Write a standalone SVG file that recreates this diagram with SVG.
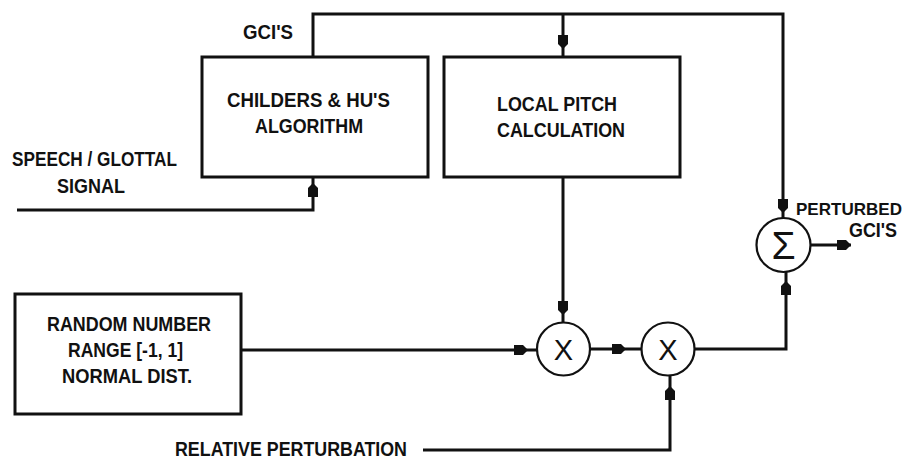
<svg xmlns="http://www.w3.org/2000/svg" width="907" height="459" viewBox="0 0 907 459">
<style>
.box{fill:#fff;stroke:#111;stroke-width:3}
.circ{fill:#fff;stroke:#111;stroke-width:2.2}
.line{fill:none;stroke:#111;stroke-width:3;stroke-linejoin:miter}
.lbl{font-family:"Liberation Sans",Arial,sans-serif;font-weight:bold;font-size:19.5px;fill:#111}
.op{font-family:"Liberation Sans",Arial,sans-serif;font-weight:normal;fill:#111;text-anchor:middle}
</style>
<defs>
<path id="ah" d="M0,0 L-5,-5 L-14,-5 L-14,5 L-5,5 Z" fill="#111"/>
</defs>
<rect width="907" height="459" fill="#fff"/>
<g id="connectors">
<polyline class="line" points="313,57 313,14 783,14 783,218"/>
<line class="line" x1="563" y1="14" x2="563" y2="57"/>
<polyline class="line" points="17,210 313,210 313,177"/>
<line class="line" x1="563" y1="177" x2="563" y2="322"/>
<line class="line" x1="241" y1="350" x2="537" y2="350"/>
<line class="line" x1="590" y1="349" x2="641" y2="349"/>
<polyline class="line" points="695,349 786,349 786,272"/>
<line class="line" x1="811" y1="245" x2="851" y2="245"/>
<polyline class="line" points="423,450 670,450 670,376"/>
<use href="#ah" transform="translate(563,49) rotate(90)"/>
<use href="#ah" transform="translate(313,183) rotate(-90)"/>
<use href="#ah" transform="translate(783,213) rotate(90)"/>
<use href="#ah" transform="translate(786,281) rotate(-90)"/>
<use href="#ah" transform="translate(851,245)"/>
<use href="#ah" transform="translate(563,315) rotate(90)"/>
<use href="#ah" transform="translate(528,350)"/>
<use href="#ah" transform="translate(626,349)"/>
<use href="#ah" transform="translate(670,386) rotate(-90)"/>
</g>
<g id="gcis-label"><text class="lbl" x="243" y="39" textLength="50" lengthAdjust="spacingAndGlyphs">GCI'S</text></g>
<g id="childers">
<rect class="box" x="202" y="57" width="226" height="120"/>
<text class="lbl" x="227" y="107" textLength="163" lengthAdjust="spacingAndGlyphs">CHILDERS &amp; HU'S</text>
<text class="lbl" x="255" y="133" textLength="108" lengthAdjust="spacingAndGlyphs">ALGORITHM</text>
</g>
<g id="local-pitch">
<rect class="box" x="444" y="57" width="236" height="120"/>
<text class="lbl" x="497" y="111" textLength="120" lengthAdjust="spacingAndGlyphs">LOCAL PITCH</text>
<text class="lbl" x="497" y="137" textLength="128" lengthAdjust="spacingAndGlyphs">CALCULATION</text>
</g>
<g id="speech-input">
<text class="lbl" x="12" y="166" textLength="165" lengthAdjust="spacingAndGlyphs">SPEECH / GLOTTAL</text>
<text class="lbl" x="57" y="193" textLength="68" lengthAdjust="spacingAndGlyphs">SIGNAL</text>
</g>
<g id="random">
<rect class="box" x="15" y="294" width="226" height="120"/>
<text class="lbl" x="47" y="331" textLength="164" lengthAdjust="spacingAndGlyphs">RANDOM NUMBER</text>
<text class="lbl" x="68" y="357" textLength="115" lengthAdjust="spacingAndGlyphs">RANGE [-1, 1]</text>
<text class="lbl" x="62" y="383" textLength="130" lengthAdjust="spacingAndGlyphs">NORMAL DIST.</text>
</g>
<g id="mult1">
<circle class="circ" cx="563.5" cy="349" r="26.5"/>
<text class="op" x="563.5" y="360" font-size="29">X</text>
</g>
<g id="mult2">
<circle class="circ" cx="668" cy="349" r="26.5"/>
<text class="op" x="668" y="360" font-size="29">X</text>
</g>
<g id="sum">
<circle class="circ" cx="783.5" cy="245" r="27"/>
<text class="op" x="783.5" y="259" font-size="39">Σ</text>
</g>
<g id="output-label">
<text class="lbl" x="796" y="215" style="font-size:17.3px" textLength="106" lengthAdjust="spacingAndGlyphs">PERTURBED</text>
<text class="lbl" x="849" y="237" textLength="48" lengthAdjust="spacingAndGlyphs">GCI'S</text>
</g>
<g id="relative-input">
<text class="lbl" x="175" y="456" textLength="232" lengthAdjust="spacingAndGlyphs">RELATIVE PERTURBATION</text>
</g>
</svg>
